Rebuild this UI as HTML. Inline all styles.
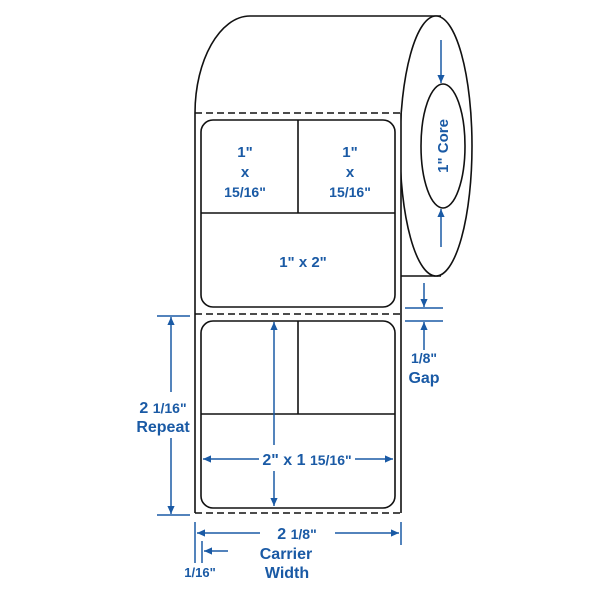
<!DOCTYPE html>
<html><head><style>
html,body{margin:0;padding:0;background:#fff;}
svg{display:block;}
text{font-family:"Liberation Sans",Arial,sans-serif;font-weight:bold;fill:#1a5aa5;text-anchor:middle;}
</style></head><body>
<svg width="614" height="596" viewBox="0 0 614 596" xmlns="http://www.w3.org/2000/svg">
<defs>
<marker id="a" viewBox="0 0 10 10" refX="10" refY="5" markerWidth="9" markerHeight="8" orient="auto-start-reverse" markerUnits="userSpaceOnUse"><path d="M0,0.5 L10,5 L0,9.5 z" fill="#1a5aa5"/></marker>
</defs>
<g fill="none" stroke="#111" stroke-width="1.6">
<path d="M195,113 C195,60 220,16 250,16 L441,16"/>
<path d="M441,276 L401,276"/>
<ellipse cx="436" cy="146" rx="36" ry="130" fill="#fff"/>
<ellipse cx="443" cy="146" rx="22" ry="62"/>
<rect x="195" y="113" width="206" height="400" fill="#fff" stroke="none"/>
<line x1="195" y1="113" x2="195" y2="513"/>
<line x1="401" y1="113" x2="401" y2="513"/>
<g stroke-dasharray="7,4">
<line x1="195" y1="113" x2="401" y2="113"/>
<line x1="195" y1="314" x2="401" y2="314"/>
<line x1="195" y1="513" x2="401" y2="513"/>
</g>
<rect x="201" y="120" width="194" height="187" rx="12"/>
<line x1="298" y1="120" x2="298" y2="213"/>
<line x1="201" y1="213" x2="395" y2="213"/>
<rect x="201" y="321" width="194" height="187" rx="12"/>
<line x1="298" y1="321" x2="298" y2="414"/>
<line x1="201" y1="414" x2="395" y2="414"/>
</g>
<g stroke="#1a5aa5" stroke-width="1.5" fill="none">
<line x1="441" y1="40" x2="441" y2="83" marker-end="url(#a)"/>
<line x1="441" y1="247" x2="441" y2="209" marker-end="url(#a)"/>
<line x1="424" y1="283" x2="424" y2="307" marker-end="url(#a)"/>
<line x1="405" y1="308" x2="443" y2="308"/>
<line x1="405" y1="321" x2="443" y2="321"/>
<line x1="424" y1="350" x2="424" y2="322" marker-end="url(#a)"/>
<line x1="157" y1="316" x2="190" y2="316"/>
<line x1="157" y1="515" x2="190" y2="515"/>
<line x1="171" y1="392" x2="171" y2="317" marker-end="url(#a)"/>
<line x1="171" y1="438" x2="171" y2="514" marker-end="url(#a)"/>
<line x1="274" y1="445" x2="274" y2="322" marker-end="url(#a)"/>
<line x1="274" y1="471" x2="274" y2="506" marker-end="url(#a)"/>
<line x1="259" y1="459" x2="203" y2="459" marker-end="url(#a)"/>
<line x1="355" y1="459" x2="393" y2="459" marker-end="url(#a)"/>
<line x1="195" y1="522" x2="195" y2="563"/>
<line x1="401" y1="522" x2="401" y2="545"/>
<line x1="260" y1="533" x2="197" y2="533" marker-end="url(#a)"/>
<line x1="335" y1="533" x2="399" y2="533" marker-end="url(#a)"/>
<line x1="202" y1="541" x2="202" y2="563"/>
<line x1="228" y1="551" x2="204" y2="551" marker-end="url(#a)"/>
</g>
<g font-size="15">
<text x="245" y="157">1"</text>
<text x="245" y="177">x</text>
<text x="245" y="197" font-size="14">15/16"</text>
<text x="350" y="157">1"</text>
<text x="350" y="177">x</text>
<text x="350" y="197" font-size="14">15/16"</text>
<text x="303" y="267">1" x 2"</text>
<text x="0" y="0" transform="translate(448,146) rotate(-90)">1" Core</text>
<text x="424" y="363" font-size="14">1/8"</text>
<text x="424" y="383" font-size="16">Gap</text>
<text x="163" y="413" font-size="16">2 <tspan font-size="14">1/16"</tspan></text>
<text x="163" y="432" font-size="16">Repeat</text>
<text x="307" y="465" font-size="16">2" x 1 <tspan font-size="14">15/16"</tspan></text>
<text x="297" y="539" font-size="16">2 <tspan font-size="14">1/8"</tspan></text>
<text x="286" y="559" font-size="16">Carrier</text>
<text x="287" y="578" font-size="16">Width</text>
<text x="200" y="577" font-size="13">1/16"</text>
</g>
</svg>
</body></html>
